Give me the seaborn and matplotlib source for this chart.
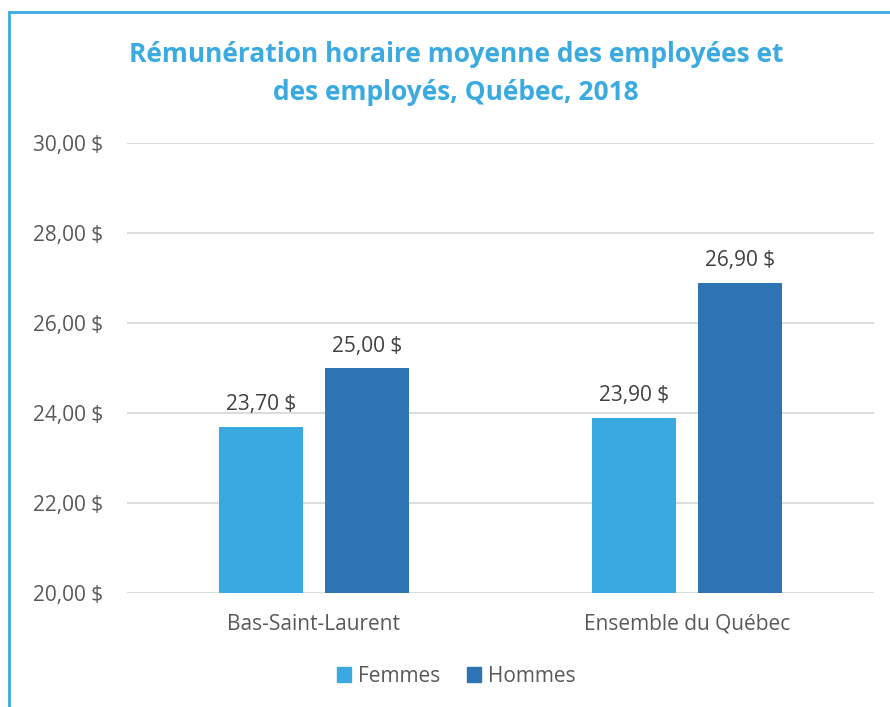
import matplotlib
matplotlib.use("Agg")
import matplotlib.pyplot as plt
import matplotlib.patches as mpatches
import seaborn as sns
import pandas as pd

# values
regions = ["Bas-Saint-Laurent", "Ensemble du Québec"]
sexes = ["Femmes", "Hommes"]
femmes = [23.70, 23.90]
hommes = [25.00, 26.90]
yticks = [20, 22, 24, 26, 28, 30]

colors = {"Femmes": "#39A9E0", "Hommes": "#2E74B5"}
gray = "#595959"

df = pd.DataFrame({
    "Région": regions * 2,
    "Sexe": ["Femmes"] * len(regions) + ["Hommes"] * len(regions),
    "Rémunération": femmes + hommes,
})


def fmt(v):
    return f"{v:.2f}".replace(".", ",") + " $"


sns.set_style("white")
plt.rcParams["font.family"] = ["Open Sans", "DejaVu Sans"]

fig = plt.figure(figsize=(8.9, 7.07), dpi=100)
ax = fig.add_axes([127 / 890, 1 - 593 / 707, (874 - 127) / 890, (593 - 143) / 707])

sns.barplot(data=df, x="Région", y="Rémunération", hue="Sexe", hue_order=sexes,
            order=regions, palette=colors, width=0.568, gap=0.21, ax=ax,
            legend=False, saturation=1, linewidth=0)

ax.set_ylim(20, 30)
ax.set_xlim(-0.5, 1.5)
ax.set_yticks(yticks)
ax.set_yticklabels([fmt(t) for t in yticks])
ax.yaxis.grid(True, color="#D9D9D9", linewidth=1.3)
ax.set_axisbelow(True)
for s in ax.spines.values():
    s.set_visible(False)
ax.tick_params(axis="y", length=0, pad=17, labelsize=15, labelcolor=gray)
ax.tick_params(axis="x", length=0, pad=15, labelsize=15, labelcolor=gray)
ax.set_xlabel("")
ax.set_ylabel("")

for cont in ax.containers:
    ax.bar_label(cont, labels=[fmt(v) for v in cont.datavalues], padding=8,
                 fontsize=15, color="#404040")

fig.text(456 / 890, 1 - 54 / 707, "Rémunération horaire moyenne des employées et",
         ha="center", va="center", fontsize=19, fontweight="bold", color="#3AAAE0")
fig.text(456 / 890, 1 - 93 / 707, "des employés, Québec, 2018",
         ha="center", va="center", fontsize=19, fontweight="bold", color="#3AAAE0")

handles = [mpatches.Patch(color=colors[s], label=s) for s in sexes]
fig.legend(handles=handles, loc="center", bbox_to_anchor=(456 / 890, 1 - 676 / 707),
           ncol=2, frameon=False, fontsize=15, handlelength=0.7, handleheight=0.7,
           handletextpad=0.3, columnspacing=1.3, labelcolor=gray)

# light blue frame, only top and left edges visible
fig.add_artist(mpatches.Rectangle((9 / 890, -0.5), 2, 0.5 + 1 - 12 / 707,
                                  transform=fig.transFigure, fill=False,
                                  edgecolor="#3AAAE0", linewidth=2))

fig.savefig("out.png", dpi=100)
